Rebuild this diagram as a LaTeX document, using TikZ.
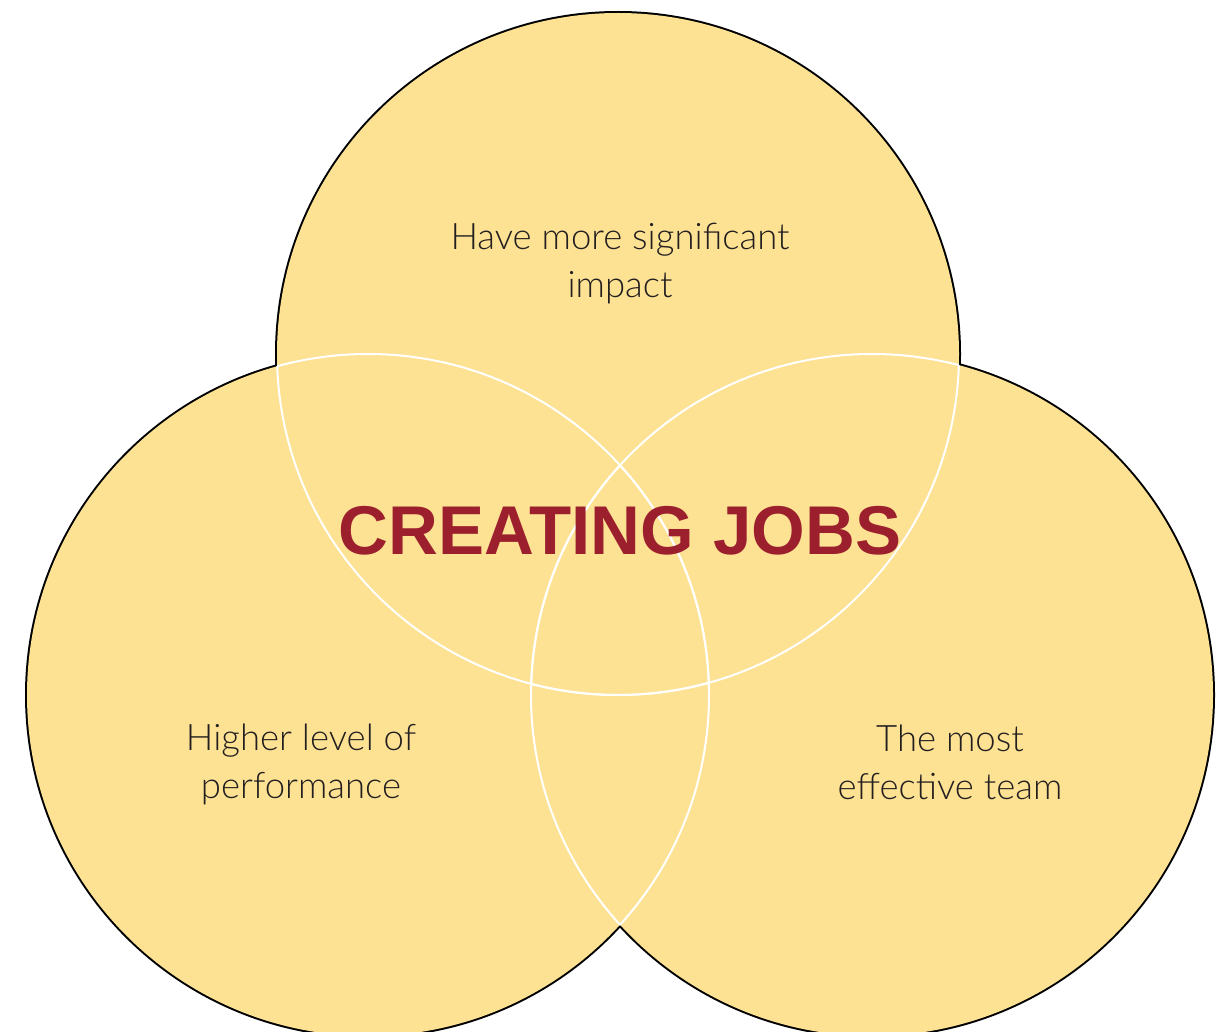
\documentclass[tikz,border=0pt]{standalone}
\usepackage{fontspec}
\newfontfamily\lightfont{Lato Light}
\newfontfamily\boldsans{Liberation Sans Bold}
\definecolor{vennfill}{HTML}{FDE294}
\definecolor{titlered}{HTML}{9C1F2D}
\definecolor{labeltext}{HTML}{231F20}
\tikzset{
  label/.style={align=center, text=labeltext, font=\lightfont\fontsize{36.5}{48}\selectfont, inner sep=0pt},
  title/.style={text=titlered, font=\boldsans\fontsize{69}{80}\selectfont, inner sep=0pt},
  outline/.style={draw=black, line width=4pt},
  inner/.style={draw=white, line width=2pt},
}
\begin{document}
\begin{tikzpicture}[x=1pt,y=-1pt]
\useasboundingbox (0,0) rectangle (1223,1032);
\clip (0,0) rectangle (1223,1032);
\def\R{341}
\coordinate (ct) at (618,354);
\coordinate (cl) at (368,695);
\coordinate (cr) at (872,695);
% outer black outline
\draw[outline] (ct) circle (\R) (cl) circle (\R) (cr) circle (\R);
% fill
\fill[vennfill] (ct) circle (\R) (cl) circle (\R) (cr) circle (\R);
% white inner arcs
\begin{scope}
  \clip (cl) circle (\R);
  \draw[inner] (ct) circle (\R) (cr) circle (\R);
\end{scope}
\begin{scope}
  \clip (cr) circle (\R);
  \draw[inner] (ct) circle (\R) (cl) circle (\R);
\end{scope}
\begin{scope}
  \clip (ct) circle (\R);
  \draw[inner] (cl) circle (\R) (cr) circle (\R);
\end{scope}
% texts
\node[label] (impact) at (620,264) {Have more significant\\impact};
\node[label] (perf) at (301,764) {Higher level of\\performance};
\node[label] (team) at (950,762) {The most\\effective team};
\node[title] (jobs) at (620,531) {CREATING JOBS};
\end{tikzpicture}
\end{document}
